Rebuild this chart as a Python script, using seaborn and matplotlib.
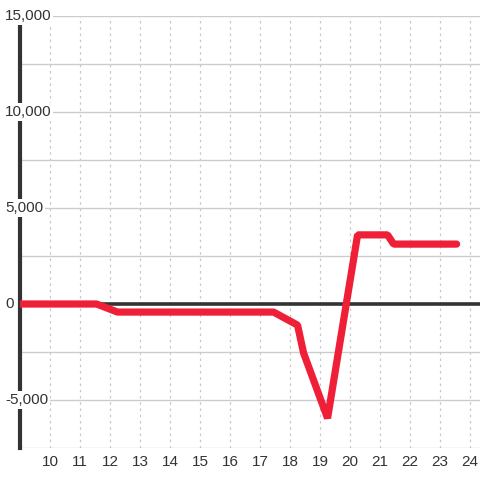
import matplotlib
matplotlib.use("Agg")
import matplotlib.pyplot as plt
import matplotlib.transforms as mtransforms
import pandas as pd
import seaborn as sns

# hour of day vs. running value
hours = [9.0, 11.55, 12.25, 17.45, 18.25, 18.45, 19.25, 20.25, 21.25, 21.45, 23.55]
values = [0, 0, -420, -420, -1100, -2550, -5950, 3600, 3600, 3120, 3120]

x_ticks = list(range(10, 25))
y_ticks = [-5000, 0, 5000, 10000, 15000]
y_grid = [-7500, -5000, -2500, 2500, 5000, 7500, 10000, 12500, 15000]

df = pd.DataFrame({"hour": hours, "value": values})

sns.set_style("white")
plt.rcParams["font.family"] = ["Liberation Sans", "DejaVu Sans"]

fig = plt.figure(figsize=(4.8, 4.8), dpi=100)
ax = fig.add_axes([20 / 480, 32 / 480, 460 / 480, 432 / 480])

for x in x_ticks:
    ax.axvline(x, color="#c8c8c8", lw=0.9, ls=(0, (2, 3)), zorder=0)
for y in y_grid:
    ax.axhline(y, color="#cccccc", lw=1.0, zorder=0)
ax.axhline(0, color="#333333", lw=2.6, zorder=1)

sns.lineplot(data=df, x="hour", y="value", color="#ee1f36", lw=5.2,
             solid_joinstyle="bevel", ax=ax, zorder=3)

ax.set_xlim(9, 24.33)
ax.set_ylim(-7500, 15000)
ax.set_xlabel("")
ax.set_ylabel("")

for s in ["top", "right", "bottom"]:
    ax.spines[s].set_visible(False)
ax.spines["left"].set_color("#333333")
ax.spines["left"].set_linewidth(3)
ax.spines["left"].set_bounds(-7500, 14600)
ax.spines["left"].set_zorder(2)

ax.set_xticks(x_ticks)
ax.set_xticklabels([str(x) for x in x_ticks])
ax.tick_params(axis="x", length=0, pad=5, labelsize=11, labelcolor="#333333")
ax.set_yticks([])

trans = mtransforms.blended_transform_factory(fig.transFigure, ax.transData)
for y in y_ticks:
    ax.text(5 / 480, y, f"{y:,}", transform=trans, ha="left", va="center",
            fontsize=11, color="#333333", zorder=5,
            bbox=dict(facecolor="white", edgecolor="none", pad=1.2))

fig.savefig("out.png", dpi=100)
